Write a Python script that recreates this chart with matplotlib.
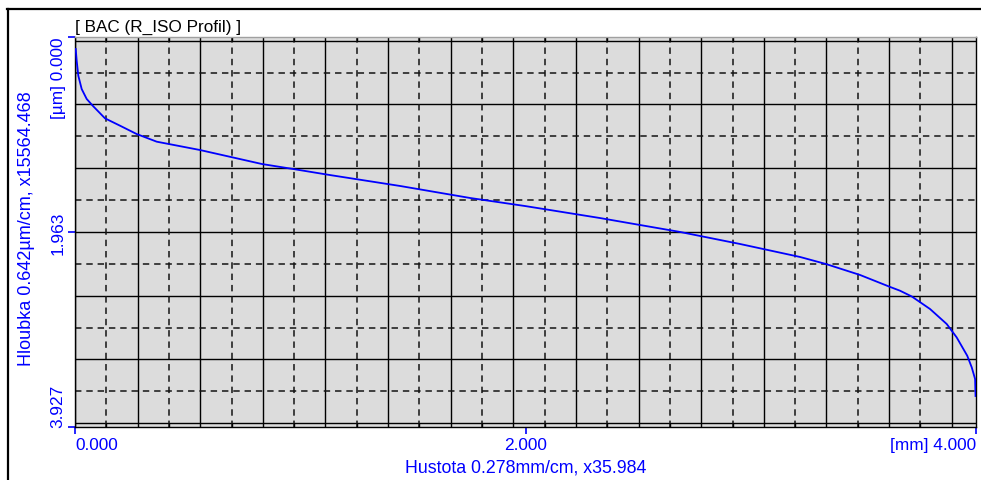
import matplotlib
matplotlib.use("Agg")
import matplotlib.pyplot as plt
import numpy as np
from matplotlib.lines import Line2D

# Bearing (density) curve: density in mm vs. depth in µm
density_mm = [0.0031, 0.0075, 0.0147, 0.0297, 0.0519, 0.0812, 0.1332, 0.1998,
              0.2739, 0.3627, 0.555, 0.830, 0.968, 1.132, 1.443, 1.754, 1.998,
              2.331, 2.686, 2.952, 3.219, 3.334, 3.485, 3.619, 3.663, 3.715,
              3.796, 3.870, 3.914, 3.961, 3.981, 3.996, 3.998]
depth_um = [0.121, 0.239, 0.390, 0.524, 0.624, 0.698, 0.819, 0.893,
            0.977, 1.054, 1.138, 1.279, 1.329, 1.390, 1.500, 1.621, 1.702,
            1.823, 1.963, 2.084, 2.215, 2.286, 2.396, 2.517, 2.555, 2.613,
            2.739, 2.890, 3.024, 3.209, 3.326, 3.444, 3.615]

x_ticks = [0.0, 2.0, 4.0]
x_tick_labels = ["0.000", "2.000", "[mm] 4.000"]
y_ticks = [0.0, 1.963, 3.927]
y_tick_labels = ["[µm] 0.000", "1.963", "3.927"]

x_step = 0.278   # mm per grid cell
y_step = 0.642   # µm per grid cell
x_max = 4.0
y_max = 3.927
y_center = 1.963

title = "[ BAC (R_ISO Profil) ]"
x_label = "Hustota 0.278mm/cm, x35.984"
y_label = "Hloubka 0.642µm/cm, x15564.468"

plt.rcParams["font.family"] = ["Liberation Sans", "DejaVu Sans"]
plt.rcParams["font.size"] = 12.3

W, H = 981, 481
fig = plt.figure(figsize=(W / 100, H / 100), dpi=100)
ax = fig.add_axes([75 / W, 1 - 428 / H, 901 / W, 390 / H])
ax.set_facecolor("#dcdcdc")
ax.set_xlim(0, x_max)
ax.set_ylim(y_max, 0)

# grid: majors every cell, dashed minors halfway between
x_major = np.arange(0, x_max + 1e-9, x_step)
x_minor = x_major + x_step / 2
x_minor = x_minor[x_minor < x_max]
y_major = y_center + y_step * np.arange(-3, 4)
y_minor = y_major[:-1] + y_step / 2

for v in x_major:
    ax.axvline(v, color="black", lw=1.0, zorder=1)
for v in y_major:
    ax.axhline(v, color="black", lw=1.0, zorder=1)
for v in x_minor:
    ax.axvline(v, color="#141414", lw=1.1, ls=(0, (4.2, 3.2)), zorder=1)
for v in y_minor:
    ax.axhline(v, color="#141414", lw=1.1, ls=(0, (4.2, 3.2)), zorder=1)
# solid minor ticks inside the top and bottom edge strips
ax.vlines(x_minor, 0, y_major[0], color="black", lw=1.0, zorder=1)
ax.vlines(x_minor, y_major[-1], y_max, color="black", lw=1.0, zorder=1)

ax.plot(density_mm, depth_um, color="#0000ff", lw=1.3, zorder=3)

for side in ("left", "right", "bottom"):
    ax.spines[side].set_color("black")
    ax.spines[side].set_linewidth(1.0)
ax.spines["top"].set_color("#a0a0a0")
ax.spines["top"].set_linewidth(1.0)

ax.set_xticks(x_ticks, x_tick_labels)
ax.set_yticks(y_ticks, y_tick_labels)
ax.tick_params(axis="both", direction="out", length=5, width=1.2,
               color="#0000ff", labelcolor="#0000ff", labelsize=12.4)
ax.tick_params(axis="x", pad=2.2)
ax.tick_params(axis="y", pad=1.7)

for lab, ha in zip(ax.get_xticklabels(), ["left", "center", "right"]):
    lab.set_ha(ha)
for lab, va in zip(ax.get_yticklabels(), ["top", "center", "bottom"]):
    lab.set_rotation(90)
    lab.set_ha("right")
    lab.set_va(va)

ax.set_xlabel(x_label, color="#0000ff", fontsize=12.8)
ax.xaxis.set_label_coords(0.5, -0.08)
ax.set_ylabel(y_label, color="#0000ff", fontsize=13.0)
ax.yaxis.set_label_coords(-0.044, 0.51)

ax.set_title(title, loc="left", pad=4.5, color="black", fontsize=12.3)

# outer window frame (top and left edges)
fig.add_artist(Line2D([7.5 / W, 7.5 / W], [0, 1 - 9.5 / H],
                      transform=fig.transFigure, color="black", lw=1.6))
fig.add_artist(Line2D([6.7 / W, 1], [1 - 10 / H, 1 - 10 / H],
                      transform=fig.transFigure, color="black", lw=1.6))

fig.savefig("out.png", dpi=100)
